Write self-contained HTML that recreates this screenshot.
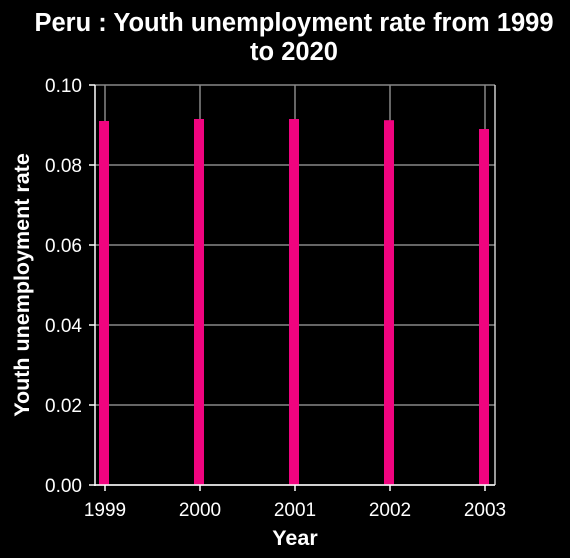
<!DOCTYPE html>
<html><head><meta charset="utf-8"><style>
body{margin:0;background:#000;width:570px;height:558px;overflow:hidden}
svg{display:block;font-family:"Liberation Sans",sans-serif}
</style></head><body>
<svg id="c" width="570" height="558">
<text x="294" y="31" fill="#fff" font-size="25.5" font-weight="bold" text-anchor="middle">Peru : Youth unemployment rate from 1999</text>
<text x="294" y="60" fill="#fff" font-size="25.5" font-weight="bold" text-anchor="middle">to 2020</text>
<text x="295" y="545" fill="#fff" font-size="21.5" font-weight="bold" text-anchor="middle">Year</text>
<text transform="translate(29,285) rotate(-90)" fill="#fff" font-size="21.5" font-weight="bold" text-anchor="middle">Youth unemployment rate</text>
<g id="g"></g>
</svg>
<script>
const categories=[1999,2000,2001,2002,2003];
const values=[0.091,0.0915,0.0915,0.0912,0.089];
const yTicks=[0,0.02,0.04,0.06,0.08,0.10];
const yLabels=["0.00","0.02","0.04","0.06","0.08","0.10"];
const L=95,R=495,T=85,B=485;
const x=c=>105+(c-1999)*95;
const y=v=>B-(v/0.1)*(B-T);
const g=document.getElementById('g');
const NS='http://www.w3.org/2000/svg';
function mk(t,a){const e=document.createElementNS(NS,t);for(const k in a)e.setAttribute(k,a[k]);g.appendChild(e);return e;}
yTicks.forEach((v,i)=>{
 const l=mk('line',{x1:L,x2:R,y1:y(v),y2:y(v),stroke:'#888','stroke-width':1.5});
 
 
 const tk=mk('line',{x1:L-6,x2:L,y1:y(v),y2:y(v),stroke:'#fff','stroke-width':1.5});
 
 
 const t=mk('text',{x:L-13,y:y(v)+7,fill:'#fff','font-size':19,'text-anchor':'end'});
 t.textContent=yLabels[i];
 
 
});
categories.forEach((c,i)=>{
 const l=mk('line',{x1:x(c),x2:x(c),y1:T,y2:B,stroke:'#888','stroke-width':1.5});
 
 
});
const rb=mk('line',{x1:R,x2:R,y1:T,y2:B,stroke:'#ccc','stroke-width':1.5});


categories.forEach((c,i)=>{
 const r=mk('rect',{x:x(c)-6,y:y(values[i]),width:10,height:B-y(values[i]),fill:'#f0047f'});
 
 
 const tk=mk('line',{x1:x(c),x2:x(c),y1:B,y2:B+6,stroke:'#fff','stroke-width':1.5});
 
 
 const t=mk('text',{x:x(c),y:B+31,fill:'#fff','font-size':19,'text-anchor':'middle'});
 t.textContent=c;
 
 
});
const ya=mk('line',{x1:L,x2:L,y1:T,y2:B+1,stroke:'#fff','stroke-width':1.5});


const xa=mk('line',{x1:L-1,x2:R,y1:B,y2:B,stroke:'#fff','stroke-width':1.5});


</script>
</body></html>
